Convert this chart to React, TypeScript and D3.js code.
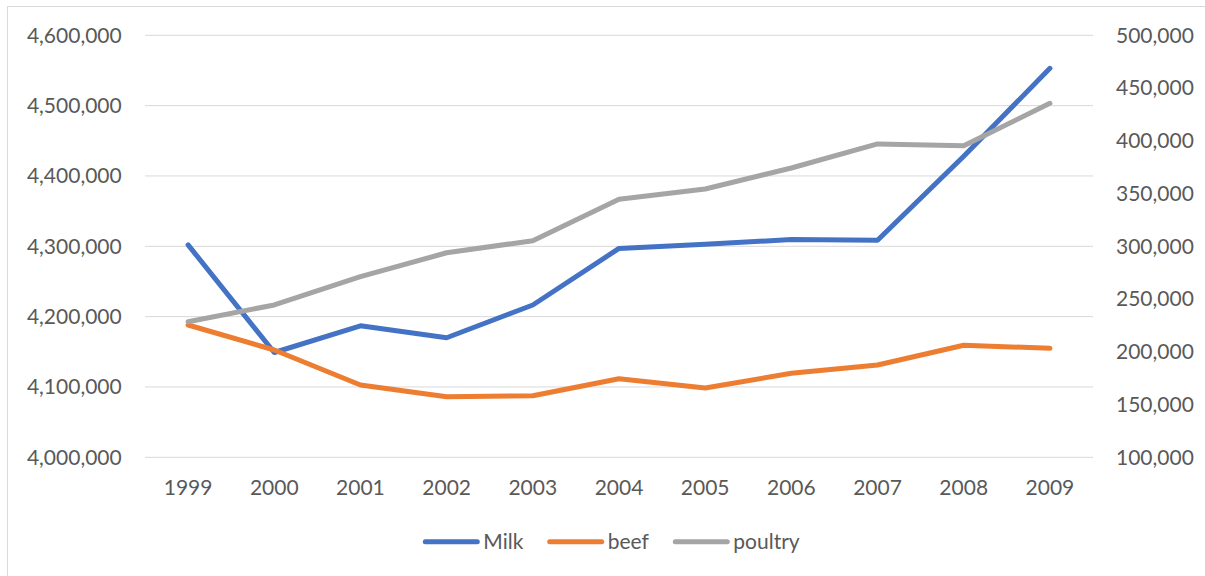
import React from "react";
import * as d3 from "d3";

const years = ["1999","2000","2001","2002","2003","2004","2005","2006","2007","2008","2009"];
const milk = [4302000, 4149000, 4187000, 4170000, 4216500, 4297000, 4303000, 4309500, 4308500, 4428000, 4553000];
const beef = [225400, 201700, 168500, 157400, 158400, 174500, 165700, 179600, 187500, 206200, 203300];
const poultry = [228500, 244400, 271200, 293900, 305300, 344500, 354300, 374200, 397000, 395400, 435500];
const leftTicks = [4000000, 4100000, 4200000, 4300000, 4400000, 4500000, 4600000];
const rightTicks = [100000, 150000, 200000, 250000, 300000, 350000, 400000, 450000, 500000];

const W = 1205, H = 576;
const plot = { left: 145, right: 1093, top: 35.3, bottom: 457.3 };
const FONT = "Lato, 'Open Sans', sans-serif";
const TXT = "#595959";
const FS = 21;
const COLORS = { milk: "#4472C4", beef: "#ED7D31", poultry: "#A5A5A5" };

export default function App() {
  const x = d3.scaleBand<string>().domain(years).range([plot.left, plot.right]);
  const yL = d3.scaleLinear().domain([4000000, 4600000]).range([plot.bottom, plot.top]);
  const yR = d3.scaleLinear().domain([100000, 500000]).range([plot.bottom, plot.top]);
  const fmt = d3.format(",");
  const cx = (i: number) => (x(years[i]) as number) + x.bandwidth() / 2;
  const lineL = d3.line<number>().x((_, i) => cx(i)).y((d) => yL(d));
  const lineR = d3.line<number>().x((_, i) => cx(i)).y((d) => yR(d));

  const series = [
    { name: "Milk", color: COLORS.milk, d: lineL(milk) },
    { name: "beef", color: COLORS.beef, d: lineR(beef) },
    { name: "poultry", color: COLORS.poultry, d: lineR(poultry) },
  ];
  const legend = [
    { name: "Milk", color: COLORS.milk, x0: 423.3 },
    { name: "beef", color: COLORS.beef, x0: 547.7 },
    { name: "poultry", color: COLORS.poultry, x0: 673.3 },
  ];

  return (
    <svg width={W} height={H} style={{ position: "absolute", left: 0, top: 0 }} fontFamily={FONT}>
      <rect x={0} y={0} width={W} height={H} fill="#fff" />
      <rect x={7.5} y={6.5} width={W + 10} height={H + 10} fill="none" stroke="#D9D9D9" strokeWidth={1} />
      {leftTicks.map((t) => (
        <line key={t} x1={plot.left} x2={plot.right} y1={yL(t)} y2={yL(t)} stroke="#D9D9D9" strokeWidth={1} />
      ))}
      {leftTicks.map((t) => (
        <text key={t} x={121.7} y={yL(t)} dy="0.35em" textAnchor="end" fontSize={FS} fill={TXT}>{fmt(t)}</text>
      ))}
      {rightTicks.map((t) => (
        <text key={t} x={1116} y={yR(t)} dy="0.35em" textAnchor="start" fontSize={FS} fill={TXT}>{fmt(t)}</text>
      ))}
      {years.map((yv, i) => (
        <text key={yv} x={cx(i)} y={488} dy="0.35em" textAnchor="middle" fontSize={FS} fill={TXT}>{yv}</text>
      ))}
      {series.map((s) => (
        <path key={s.name} d={s.d || ""} fill="none" stroke={s.color} strokeWidth={5} strokeLinejoin="round" strokeLinecap="round" />
      ))}
      {legend.map((l) => (
        <g key={l.name}>
          <line x1={l.x0 + 2} x2={l.x0 + 54} y1={541.7} y2={541.7} stroke={l.color} strokeWidth={5} strokeLinecap="round" />
          <text x={l.x0 + 60} y={541.7} dy="0.35em" fontSize={FS} fill={TXT}>{l.name}</text>
        </g>
      ))}
    </svg>
  );
}
